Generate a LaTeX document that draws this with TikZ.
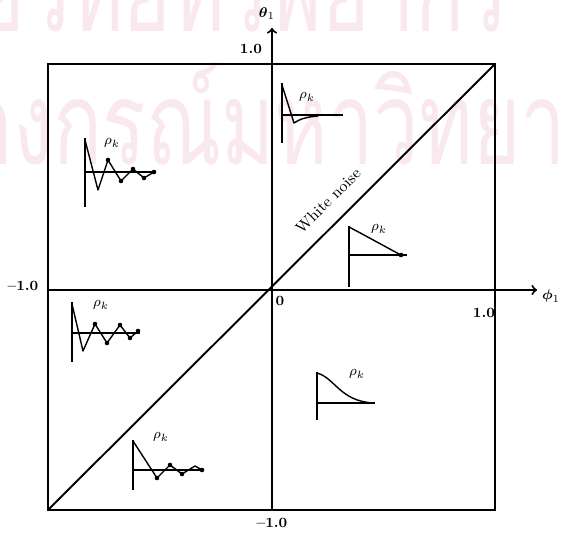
\documentclass[tikz,border=0pt]{standalone}
\usepackage{amsmath,amssymb}
\usepackage{fontspec}
\newfontfamily\thaifont[Script=Thai]{Loma}
\usepackage{tikz}
\usetikzlibrary{positioning,arrows}
\definecolor{wmpink}{RGB}{250,232,240}

\begin{document}
\begin{tikzpicture}[x=0.02cm, y=-0.02cm,
		frame/.style={line width=1.1pt},
		axis/.style={->, line width=1.1pt},
		lab/.style={font=\footnotesize\bfseries, inner sep=1pt},
		rho/.style={font=\footnotesize, inner sep=0pt},
		acf/.style={line width=0.8pt, line join=round},
		wm/.style={font=\thaifont\fontsize{66}{66}\selectfont, text=wmpink, inner sep=0pt, xscale=0.7}
	]
		\useasboundingbox (0,0) rectangle (565,533);
		% watermark of the scan
		\node[wm, anchor=base west] (wmtop) at (-130,32) {ศูนย์วิทยทรัพยากร};
		\node[wm, anchor=base west] (wmbot) at (-185,165) {จุฬาลงกรณ์มหาวิทยาลัย};

		% frame and diagonal
		\coordinate (sw) at (48,510);
		\coordinate (ne) at (495,64);
		\draw[frame] (sw) rectangle (ne);
		\draw[frame] (sw) -- node[pos=0.66, sloped, above=5pt, font=\small] (wn) {White noise} (ne);

		% axes
		\coordinate (ybot) at (272,510);
		\coordinate (ytip) at (272,28);
		\coordinate (xlft) at (48,290);
		\coordinate (xtip) at (537,290);
		\draw[axis] (ybot) -- (ytip);
		\draw[axis] (xlft) -- (xtip);

		\node[lab] (theta) at (267,14) {$\boldsymbol{\theta}_1$};
		\node[lab] (phi) at (551,296) {$\boldsymbol{\phi}_1$};
		\node[lab] (ymax) at (251,49) {1.0};
		\node[lab] (ymin) at (272,523) {--1.0};
		\node[lab] (xmin) at (23,286) {--1.0};
		\node[lab] (xmax) at (484,313) {1.0};
		\node[lab] (zero) at (280,301) {0};

		% top right, fast decay
		\draw[acf] (282,83) -- (282,143);
		\draw[acf] (282,115) -- (343,115);
		\draw[acf] (282,85) -- (294,123) .. controls (300,119) and (306,117) .. (318,116);
		\node[rho] (rhoA) at (307,97) {$\rho_k$};

		% top left, alternating
		\draw[acf] (85,138) -- (85,207);
		\draw[acf] (85,172) -- (155,172);
		\draw[acf] (85,140) -- (98,190) -- (108,160) -- (121,181) -- (133,169) -- (144,178) -- (154,172);
		\foreach \p in {(108,160),(121,181),(133,169),(144,178),(154,172)}
			\fill \p circle[radius=1.3pt];
		\node[rho] (rhoB) at (112,143) {$\rho_k$};

		% right of diagonal, exponential
		\draw[acf] (349,226) -- (349,287);
		\draw[acf] (349,255) -- (407,255);
		\draw[acf] (349,227) .. controls (368,237) and (384,246) .. (401,255);
		\fill (401,255) circle[radius=1.3pt];
		\node[rho] (rhoC) at (379,229) {$\rho_k$};

		% bottom left, alternating
		\draw[acf] (72,302) -- (72,362);
		\draw[acf] (72,333) -- (140,333);
		\draw[acf] (72,304) -- (83,351) -- (95,324) -- (107,343) -- (120,325) -- (130,338) -- (138,331);
		\foreach \p in {(95,324),(107,343),(120,325),(130,338),(138,331)}
			\fill \p circle[radius=1.3pt];
		\node[rho] (rhoD) at (101,305) {$\rho_k$};

		% bottom right, damped
		\draw[acf] (317,372) -- (317,420);
		\draw[acf] (317,403) -- (375,403);
		\draw[acf] (317,373) .. controls (335,378) and (340,401) .. (373,403);
		\node[rho] (rhoE) at (357,374) {$\rho_k$};

		% below diagonal
		\draw[acf] (133,440) -- (133,490);
		\draw[acf] (133,470) -- (200,470);
		\draw[acf] (133,441) -- (157,478) -- (170,465) -- (182,474) -- (195,466) -- (202,470);
		\foreach \p in {(157,478),(170,465),(182,474),(202,470)}
			\fill \p circle[radius=1.3pt];
		\node[rho] (rhoF) at (161,437) {$\rho_k$};
	\end{tikzpicture}
\end{document}
